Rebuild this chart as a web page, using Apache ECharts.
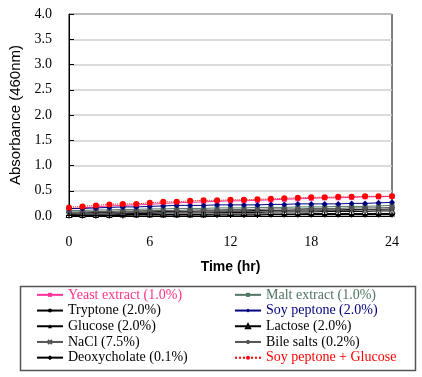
<!DOCTYPE html>
<html>
<head>
<meta charset="utf-8">
<script src="https://cdn.jsdelivr.net/npm/echarts@6/dist/echarts.min.js"></script>
<style>
  html, body { margin: 0; padding: 0; background: #fff; }
  #chart { width: 422px; height: 377px; }
</style>
</head>
<body>
<div id="chart"></div>
<script>
// hours 0..24
var hours = [0,1,2,3,4,5,6,7,8,9,10,11,12,13,14,15,16,17,18,19,20,21,22,23,24];
var xTicks = [0, 6, 12, 18, 24];

var yeast   = [0.14,0.16,0.18,0.20,0.21,0.22,0.23,0.25,0.26,0.27,0.28,0.29,0.30,0.30,0.31,0.32,0.33,0.34,0.35,0.36,0.36,0.37,0.38,0.38,0.39];
var malt    = [0.11,0.11,0.12,0.12,0.13,0.13,0.14,0.14,0.15,0.15,0.15,0.16,0.16,0.16,0.17,0.17,0.17,0.18,0.18,0.18,0.19,0.19,0.19,0.20,0.21];
var tryptone= [0.06,0.06,0.07,0.07,0.08,0.08,0.08,0.09,0.09,0.09,0.10,0.10,0.10,0.10,0.11,0.11,0.11,0.12,0.12,0.12,0.12,0.13,0.13,0.13,0.14];
var soy     = [0.15,0.15,0.16,0.17,0.18,0.18,0.19,0.20,0.21,0.21,0.21,0.22,0.22,0.22,0.22,0.23,0.23,0.24,0.24,0.24,0.24,0.25,0.25,0.26,0.27];
var glucose = [0.02,0.02,0.02,0.02,0.03,0.03,0.03,0.03,0.03,0.03,0.03,0.04,0.04,0.04,0.04,0.04,0.04,0.04,0.05,0.05,0.05,0.05,0.05,0.05,0.05];
var lactose = [0.03,0.04,0.04,0.04,0.05,0.05,0.05,0.06,0.06,0.06,0.06,0.07,0.07,0.07,0.07,0.08,0.08,0.08,0.08,0.09,0.09,0.09,0.09,0.10,0.10];
var nacl    = [0.05,0.05,0.06,0.06,0.06,0.07,0.07,0.07,0.08,0.08,0.08,0.08,0.09,0.09,0.09,0.10,0.10,0.10,0.10,0.11,0.11,0.11,0.12,0.12,0.12];
var bile    = [0.08,0.08,0.09,0.09,0.10,0.10,0.11,0.11,0.11,0.12,0.12,0.12,0.13,0.13,0.13,0.14,0.14,0.14,0.15,0.15,0.15,0.16,0.16,0.16,0.17];
var deoxy   = [0.01,0.01,0.01,0.01,0.01,0.02,0.02,0.02,0.02,0.02,0.02,0.02,0.02,0.02,0.02,0.03,0.03,0.03,0.03,0.03,0.03,0.03,0.03,0.03,0.03];
var soyGlu  = [0.17,0.19,0.21,0.23,0.24,0.24,0.26,0.28,0.28,0.30,0.31,0.31,0.32,0.32,0.33,0.34,0.35,0.36,0.37,0.37,0.38,0.38,0.39,0.39,0.39];

var names = ['Yeast extract (1.0%)','Malt extract (1.0%)','Tryptone (2.0%)','Soy peptone (2.0%)',
  'Glucose (2.0%)','Lactose (2.0%)','NaCl (7.5%)','Bile salts (0.2%)','Deoxycholate (0.1%)','Soy peptone + Glucose'];

var crossPath = 'path://M0,0 L10,10 M10,0 L0,10';
var plusPath = 'path://M5,0 L5,10 M0,5 L10,5';
var starPath = 'path://M5,0 L5,10 M0,5 L10,5 M1.5,1.5 L8.5,8.5 M8.5,1.5 L1.5,8.5';

function pairs(vals) {
  return hours.map(function (h, i) { return [h, vals[i]]; });
}

function mk(name, vals, color, symbol, size, opts) {
  opts = opts || {};
  return {
    name: name, type: 'line', data: pairs(vals),
    symbol: symbol, symbolSize: size,
    lineStyle: { color: color, width: 1, type: opts.dash || 'solid' },
    itemStyle: opts.hollow
      ? { color: '#fff', borderColor: color, borderWidth: 1 }
      : (opts.stroke ? { color: color, borderColor: color, borderWidth: 1.2 } : { color: color }),
    z: opts.z || 2,
    animation: false
  };
}

var series = [
  mk(names[0], yeast, '#ff3399', 'rect', 5),
  mk(names[1], malt, '#4f7563', 'rect', 5),
  mk(names[2], tryptone, '#000', 'circle', 5),
  mk(names[3], soy, '#000080', 'diamond', 6, { z: 3 }),
  mk(names[4], glucose, '#000', 'triangle', 6),
  mk(names[5], lactose, '#000', 'triangle', 6, { hollow: true }),
  mk(names[6], nacl, '#555', crossPath, 5, { stroke: true }),
  mk(names[7], bile, '#555', starPath, 6, { stroke: true }),
  mk(names[8], deoxy, '#000', plusPath, 6, { stroke: true }),
  mk(names[9], soyGlu, '#ff0000', 'circle', 6, { dash: 'dotted', z: 4 })
];

var legendColors = ['#ff3385','#4f7563','#000','#000080','#000','#000','#000','#000','#000','#ff0000'];
function legendData(idx) {
  return idx.map(function (i) {
    return { name: names[i], textStyle: { color: legendColors[i] } };
  });
}

var legendBase = {
  orient: 'vertical', top: 287, padding: 0, itemWidth: 26, itemHeight: 5, itemGap: 0,
  textStyle: { fontFamily: 'Liberation Serif', fontSize: 14, lineHeight: 15.7, color: '#000' },
  selectedMode: false
};

var chart = echarts.init(document.getElementById('chart'));
chart.setOption({
  animation: false,
  grid: { left: 69, right: 30, top: 14, bottom: 161, show: true, borderColor: '#000', borderWidth: 1 },
  xAxis: {
    type: 'value', min: 0, max: 24, interval: 6,
    name: 'Time (hr)', nameLocation: 'middle', nameGap: 44,
    nameTextStyle: { fontFamily: 'Liberation Sans', fontSize: 14, fontWeight: 'bold', color: '#000' },
    axisLine: { lineStyle: { color: '#000' } },
    axisTick: { show: false },
    axisLabel: { margin: 19, fontFamily: 'Liberation Serif', fontSize: 14, color: '#000' },
    splitLine: { show: false }
  },
  yAxis: {
    type: 'value', min: 0, max: 4, interval: 0.5,
    name: 'Absorbance (460nm)', nameLocation: 'middle', nameGap: 43,
    nameTextStyle: { fontFamily: 'Liberation Sans', fontSize: 15, color: '#000' },
    axisLine: { show: true, lineStyle: { color: '#000' } },
    axisTick: { show: true, inside: true, length: 5, lineStyle: { color: '#000' } },
    axisLabel: { margin: 17, fontFamily: 'Liberation Serif', fontSize: 14, color: '#000',
      formatter: function (v) { return v.toFixed(1); } },
    splitLine: { lineStyle: { color: '#cfcfcf', width: 1.5 } }
  },
  legend: [
    Object.assign({}, legendBase, { left: 36, data: legendData([0,2,4,6,8]) }),
    Object.assign({}, legendBase, { left: 234, data: legendData([1,3,5,7,9]) })
  ],
  graphic: [{
    type: 'rect', left: 18, top: 284,
    shape: { width: 395, height: 84 },
    style: { fill: 'none', stroke: '#555', lineWidth: 1.5 }
  }],
  series: series
});
</script>
</body>
</html>
